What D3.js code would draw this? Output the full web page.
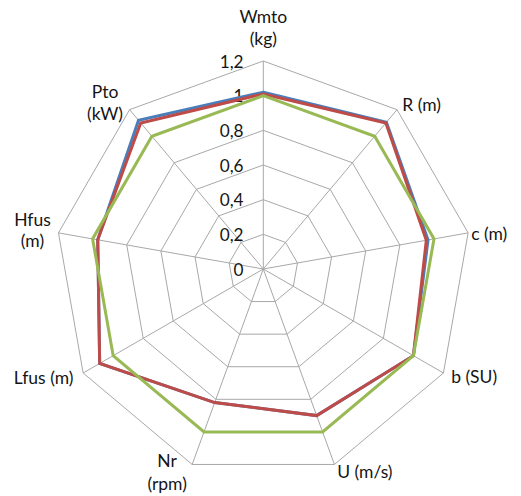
<!DOCTYPE html>
<html>
<head>
<meta charset="utf-8">
<script src="https://cdn.jsdelivr.net/npm/d3@7"></script>
<style>
  html, body { margin: 0; padding: 0; background: #fff; }
  svg { display: block; }
  text { font-family: Lato, "Open Sans", sans-serif; fill: #151515; }
</style>
</head>
<body>
<svg id="chart" width="521" height="496"></svg>
<script>
// ---- data ----
const axes = [["Wmto", "(kg)"], ["R (m)"], ["c (m)"], ["b (SU)"], ["U (m/s)"], ["Nr", "(rpm)"], ["Lfus (m)"], ["Hfus", "(m)"], ["Pto", "(kW)"]];
const tickValues = [0, 0.2, 0.4, 0.6, 0.8, 1, 1.2];
const tickLabels = ["0", "0,2", "0,4", "0,6", "0,8", "1", "1,2"];
const seriesBlue  = [1.02, 1.105, 0.965, 1.0, 0.90, 0.82, 1.09, 0.97, 1.12];
const seriesRed   = [1.01, 1.10, 0.955, 1.0, 0.90, 0.82, 1.09, 0.97, 1.10];
const seriesGreen = [1.0, 1.0, 1.0, 1.0, 1.0, 1.0, 1.0, 1.0, 1.0];

// ---- layout ----
const cx = 263.3, cy = 269, R = 208;
const svg = d3.select("#chart");
const r = d3.scaleLinear().domain([0, 1.2]).range([0, R]);
const ang = d3.scaleLinear().domain([0, axes.length]).range([0, 2 * Math.PI]);
const pt = (i, v) => [cx + r(v) * Math.sin(ang(i)), cy - r(v) * Math.cos(ang(i))];

const grid = svg.append("g").attr("stroke", "#a8a8a8").attr("stroke-width", 1).attr("fill", "none");
// rings
tickValues.filter(t => t > 0).forEach(t => {
  grid.append("path").attr("d", d3.line()(axes.map((a, i) => pt(i, t))) + "Z");
});
// spokes
axes.forEach((a, i) => {
  const p = pt(i, 1.2);
  grid.append("line").attr("x1", cx).attr("y1", cy).attr("x2", p[0]).attr("y2", p[1]);
});

// tick labels
svg.append("g").selectAll("text").data(tickValues).join("text")
  .attr("x", 243.5).attr("y", d => cy - r(d) + 6.5)
  .attr("text-anchor", "end").attr("font-size", 17.2)
  .text((d, i) => tickLabels[i]);

// series
const seriesList = [[seriesBlue, "#4a7ebb"], [seriesRed, "#be4b48"], [seriesGreen, "#98b954"]];
const line = d3.line().curve(d3.curveLinearClosed);
svg.append("g").selectAll("path").data(seriesList).join("path")
  .attr("d", d => line(d[0].map((v, i) => pt(i, v))))
  .attr("fill", "none").attr("stroke", d => d[1]).attr("stroke-width", 3)
  .attr("stroke-linejoin", "miter");

// axis labels: [anchor, dx, dy of first baseline, line height]
const labelLayout = [
  ["middle", 0, -37.7, 21.5],
  ["start", 5.3, 1, 21],
  ["start", 3, 7.2, 21],
  ["start", 7.7, 10.2, 21],
  ["start", 2.7, 13.7, 21],
  ["middle", -25, 2.7, 22.5],
  ["end", -9.7, 11.2, 21],
  ["middle", -26, -7.2, 21.5],
  ["middle", -24.6, -11.8, 22.5]
];
const lg = svg.append("g");
axes.forEach((lines, i) => {
  const p = pt(i, 1.2);
  const L = labelLayout[i];
  const t = lg.append("text").attr("font-size", 17.5).attr("text-anchor", L[0]);
  lines.forEach((s, k) => {
    t.append("tspan").attr("x", p[0] + L[1]).attr("y", p[1] + L[2] + k * L[3]).text(s);
  });
});
</script>
</body>
</html>
